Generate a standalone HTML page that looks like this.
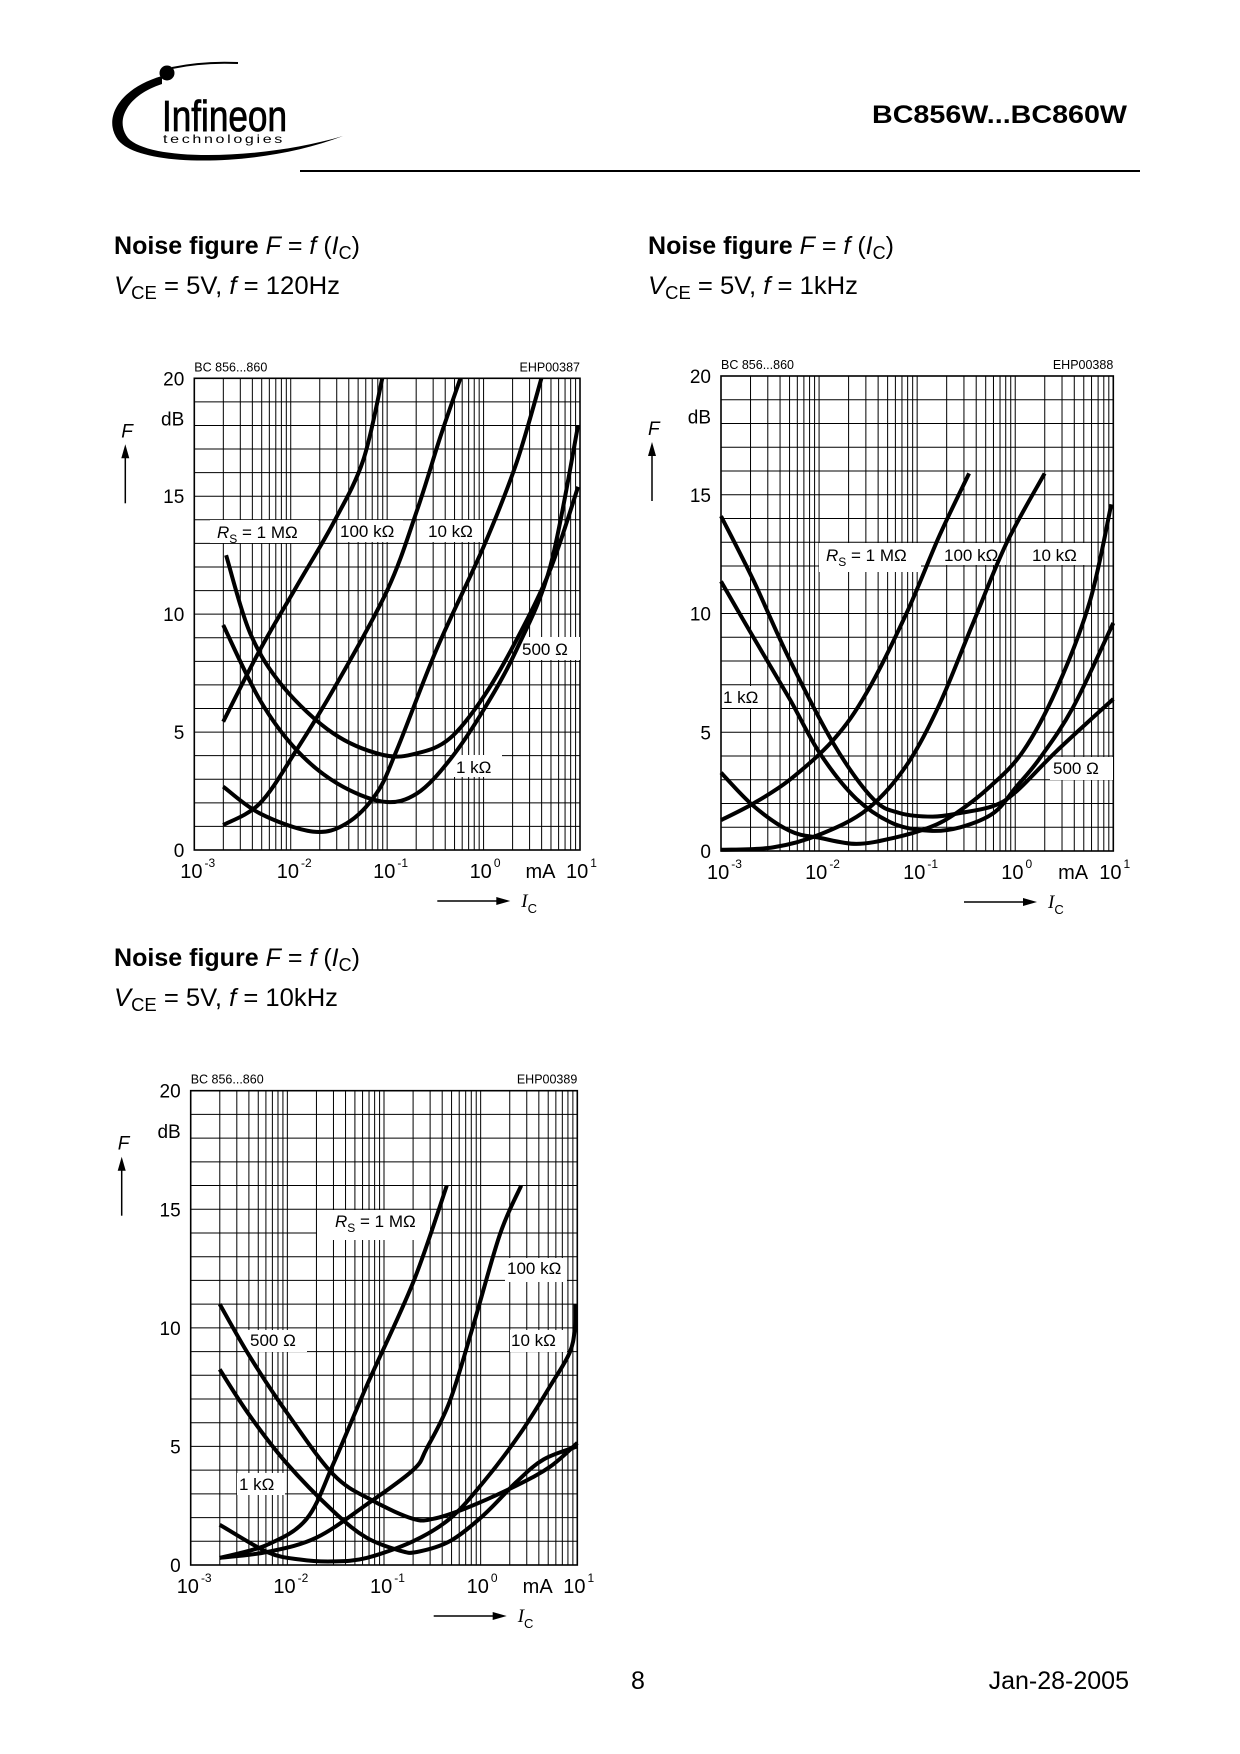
<!DOCTYPE html>
<html><head><meta charset="utf-8"><title>BC856W...BC860W noise figure</title>
<style>
html,body{margin:0;padding:0;background:#fff;}
svg{display:block;font-family:"Liberation Sans",Arial,sans-serif;}
</style></head>
<body>
<svg id="page" width="1240" height="1754" viewBox="0 0 1240 1754" xmlns="http://www.w3.org/2000/svg">
<rect x="0" y="0" width="1240" height="1754" fill="#fff"/>
<g>
  <path d="M 162,76 C 120,88 102,118 118,140 C 140,168 260,168 343,136 C 262,160 150,162 128,138 C 114,120 128,95 162,84 Z" fill="#000"/>
  <path d="M172,68 C195,63 215,62 238,63" stroke="#000" stroke-width="2" fill="none"/>
  <circle cx="167" cy="73" r="7.5" fill="#000"/>
  <text x="162" y="131" font-size="44" stroke="#000" stroke-width="0.8" textLength="125" lengthAdjust="spacingAndGlyphs">Infineon</text>
  <text x="163" y="143" font-size="12" textLength="122" lengthAdjust="spacingAndGlyphs" letter-spacing="2">technologies</text>
</g>
<text x="872" y="123" font-size="25" font-weight="bold" textLength="255" lengthAdjust="spacingAndGlyphs">BC856W...BC860W</text>
<line x1="300" y1="171" x2="1140" y2="171" stroke="#000" stroke-width="2"/>

<g>
 <text x="114" y="254" font-size="25" textLength="246" lengthAdjust="spacingAndGlyphs"><tspan font-weight="bold">Noise figure </tspan><tspan font-style="italic">F</tspan> = <tspan font-style="italic">f</tspan> (<tspan font-style="italic">I</tspan><tspan font-size="18" dy="5">C</tspan><tspan dy="-5">)</tspan></text>
 <text x="114" y="294" font-size="25" textLength="226" lengthAdjust="spacingAndGlyphs"><tspan font-style="italic">V</tspan><tspan font-size="18" dy="5">CE</tspan><tspan dy="-5"> = 5V, </tspan><tspan font-style="italic">f</tspan> = 120Hz</text>
</g>
<g>
 <text x="648" y="254" font-size="25" textLength="246" lengthAdjust="spacingAndGlyphs"><tspan font-weight="bold">Noise figure </tspan><tspan font-style="italic">F</tspan> = <tspan font-style="italic">f</tspan> (<tspan font-style="italic">I</tspan><tspan font-size="18" dy="5">C</tspan><tspan dy="-5">)</tspan></text>
 <text x="648" y="294" font-size="25" textLength="210" lengthAdjust="spacingAndGlyphs"><tspan font-style="italic">V</tspan><tspan font-size="18" dy="5">CE</tspan><tspan dy="-5"> = 5V, </tspan><tspan font-style="italic">f</tspan> = 1kHz</text>
</g>
<g>
 <text x="114" y="966" font-size="25" textLength="246" lengthAdjust="spacingAndGlyphs"><tspan font-weight="bold">Noise figure </tspan><tspan font-style="italic">F</tspan> = <tspan font-style="italic">f</tspan> (<tspan font-style="italic">I</tspan><tspan font-size="18" dy="5">C</tspan><tspan dy="-5">)</tspan></text>
 <text x="114" y="1006" font-size="25" textLength="224" lengthAdjust="spacingAndGlyphs"><tspan font-style="italic">V</tspan><tspan font-size="18" dy="5">CE</tspan><tspan dy="-5"> = 5V, </tspan><tspan font-style="italic">f</tspan> = 10kHz</text>
</g>

<g id="chart1"></g>
<g id="chart2"></g>
<g id="chart3"></g>

<text x="631" y="1689" font-size="25">8</text>
<text x="1129" y="1689" font-size="25" text-anchor="end">Jan-28-2005</text>
</svg>
<script>
// ---------- data (log10 of Ic in mA, noise figure F in dB) ----------
const xTickLabels = ["-3","-2","-1","0","1"];
const yTickLabels = [0,5,10,15,20];

// Chart 1: f = 120 Hz
const c1_1M_logIc   = [-2.70,-2.32,-1.94,-1.56,-1.25,-1.05];
const c1_1M_F       = [5.44,8.48,11.17,13.85,16.5,20];
const c1_100k_logIc = [-2.70,-2.32,-1.94,-1.52,-1.0,-0.69,-0.45,-0.24];
const c1_100k_F     = [1.06,1.98,4.24,7.07,11.0,14.4,17.5,20];
const c1_10k_logIc  = [-2.70,-2.32,-1.77,-1.42,-1.11,-0.90,-0.49,0.0,0.34,0.60];
const c1_10k_F      = [2.69,1.55,0.78,1.13,2.4,4.24,8.48,12.86,16.4,20];
const c1_1k_logIc   = [-2.70,-2.32,-1.94,-1.52,-1.04,-0.69,-0.35,0.0,0.34,0.69,0.98];
const c1_1k_F       = [9.54,6.36,4.24,2.83,2.05,2.4,3.82,5.94,8.48,12.0,18.0];
const c1_500_logIc  = [-2.67,-2.42,-2.08,-1.56,-1.04,-0.69,-0.35,0.0,0.34,0.69,0.98];
const c1_500_F      = [12.5,9.19,6.93,4.95,4.03,4.1,4.73,6.5,8.9,11.87,15.4];

// Chart 2: f = 1 kHz
const c2_1M_logIc   = [-3,-2.67,-2.30,-1.85,-1.51,-1.11,-0.77,-0.47];
const c2_1M_F       = [1.3,2.0,3.0,4.7,6.7,10.0,13.3,15.9];
const c2_100k_logIc = [-3,-2.47,-1.99,-1.51,-1.11,-0.77,-0.43,-0.09,0.30];
const c2_100k_F     = [0.05,0.15,0.7,1.75,3.6,6.2,9.6,12.95,15.9];
const c2_10k_logIc  = [-3,-2.67,-2.30,-1.99,-1.62,-1.24,-0.87,-0.60,-0.26,0.08,0.42,0.76,0.98];
const c2_10k_F      = [3.3,1.9,0.85,0.55,0.3,0.55,1.0,1.6,2.7,4.2,6.8,10.5,14.6];
const c2_1k_logIc   = [-3,-2.67,-2.30,-1.99,-1.62,-1.24,-0.87,-0.56,-0.22,0.01,0.25,0.59,1.0];
const c2_1k_F       = [11.35,9.0,6.4,4.1,2.2,1.15,0.85,1.0,1.6,2.7,3.9,6.05,9.6];
const c2_500_logIc  = [-3,-2.67,-2.30,-1.85,-1.45,-1.18,-0.84,-0.56,-0.22,0.01,0.42,1.0];
const c2_500_F      = [14.1,11.4,8.05,4.5,2.2,1.6,1.45,1.6,1.9,2.5,4.2,6.4];

// Chart 3: f = 10 kHz
const c3_1M_logIc   = [-2.70,-2.21,-1.80,-1.52,-1.18,-0.70,-0.35];
const c3_1M_F       = [0.3,0.85,1.95,4.3,7.55,11.9,16];
const c3_100k_logIc = [-2.70,-2.21,-1.70,-1.18,-0.70,-0.56,-0.32,-0.08,0.20,0.42];
const c3_100k_F     = [0.3,0.55,1.15,2.55,4.0,4.9,6.9,10.05,13.95,16];
const c3_10k_logIc  = [-2.70,-2.21,-1.87,-1.52,-1.18,-0.70,-0.32,0.03,0.41,0.72,0.92,0.975,0.98];
const c3_10k_F      = [1.7,0.55,0.23,0.15,0.3,1.0,1.95,3.5,5.55,7.55,8.95,10.0,11.0];
const c3_1k_logIc   = [-2.70,-2.39,-2.01,-1.52,-1.18,-0.83,-0.66,-0.32,0.03,0.37,0.65,1.0];
const c3_1k_F       = [8.25,6.3,4.3,2.25,1.15,0.6,0.55,1.0,2.1,3.5,4.45,5.0];
const c3_500_logIc  = [-2.70,-2.39,-2.01,-1.52,-1.11,-0.70,-0.49,-0.15,0.37,0.72,1.0];
const c3_500_F      = [11.0,8.8,6.45,3.8,2.7,1.95,1.95,2.4,3.35,4.15,5.15];

const NS = "http://www.w3.org/2000/svg";
function mk(tag, attrs, parent){
  const e = document.createElementNS(NS, tag);
  for (const k in attrs) e.setAttribute(k, attrs[k]);
  if (parent) parent.appendChild(e);
  return e;
}
function smoothPath(pts){
  let d = "M" + pts[0][0].toFixed(1) + "," + pts[0][1].toFixed(1);
  for (let i = 0; i < pts.length - 1; i++){
    const p0 = pts[Math.max(0,i-1)], p1 = pts[i], p2 = pts[i+1], p3 = pts[Math.min(pts.length-1,i+2)];
    const c1x = p1[0] + (p2[0]-p0[0])/6, c1y = p1[1] + (p2[1]-p0[1])/6;
    const c2x = p2[0] - (p3[0]-p1[0])/6, c2y = p2[1] - (p3[1]-p1[1])/6;
    d += " C" + c1x.toFixed(1)+","+c1y.toFixed(1)+" "+c2x.toFixed(1)+","+c2y.toFixed(1)+" "+p2[0].toFixed(1)+","+p2[1].toFixed(1);
  }
  return d;
}
function rsLabel(g, x, y, parts){
  const t = mk("text", {x:x, y:y, "font-size":17}, g);
  let sub = false;
  parts.forEach(p => {
    const ts = mk("tspan", {}, t);
    if (p[1] === "i") ts.setAttribute("font-style","italic");
    if (p[1] === "s"){ ts.setAttribute("font-size","12"); ts.setAttribute("dy","5"); sub = true; }
    else if (sub){ ts.setAttribute("dy","-5"); sub = false; }
    ts.textContent = p[0];
  });
  return t;
}

function drawChart(root, cfg){
  const L = cfg.left, R = cfg.right, T = cfg.top, B = cfg.bottom;
  const xs = v => L + (v + 3) / 4 * (R - L);
  const ys = v => B - v / 20 * (B - T);

  const grid = mk("g", {stroke:"#000", "stroke-width":"1", fill:"none"}, root);
  
  
  for (let d = -3; d < 1; d++){
    for (let m = 1; m <= 9; m++){
      const x = xs(d + Math.log10(m));
      mk("line", {x1:x, y1:T, x2:x, y2:B}, grid);
    }
  }
  for (let v = 0; v <= 20; v++){
    mk("line", {x1:L, y1:ys(v), x2:R, y2:ys(v)}, grid);
  }
  const frame = mk("rect", {x:L, y:T, width:R-L, height:B-T, fill:"none", stroke:"#000", "stroke-width":"1.6"}, root);
  
  

  cfg.labels.forEach(lb => {
    const g = mk("g", {}, root);
    
    
    mk("rect", {x:lb.bx, y:lb.by, width:lb.bw, height:lb.bh, fill:"#fff"}, g);
    rsLabel(g, lb.tx, lb.ty, lb.parts);
  });

  cfg.curves.forEach(c => {
    const pts = c.x.map((v,i) => [xs(v), ys(c.y[i])]);
    const p = mk("path", {d:smoothPath(pts), fill:"none", stroke:"#000", "stroke-width":"4", "stroke-linecap":"butt", "stroke-linejoin":"round"}, root);
    
    
  });

  yTickLabels.forEach(v => {
    const t = mk("text", {x:L-10, y:ys(v)+7, "font-size":19, "text-anchor":"end"}, root);
    
    
    t.textContent = String(v);
  });
  const db = mk("text", {x:L-10, y:ys(18.3)+7, "font-size":19, "text-anchor":"end"}, root);
  
  
  db.textContent = "dB";

  xTickLabels.forEach((lab, i) => {
    const x = xs(parseFloat(lab));
    const t = mk("text", {x:x-14, y:B+28, "font-size":20}, root);
    
    
    const a = mk("tspan", {}, t); a.textContent = "10";
    const s = mk("tspan", {"font-size":12, dy:-11, dx:2}, t); s.textContent = lab;
  });
  const ma = mk("text", {x:xs(0.59), y:B+28, "font-size":20, "text-anchor":"middle"}, root);
  
  
  ma.textContent = "mA";

  const cap1 = mk("text", {x:L, y:T-7, "font-size":12.5}, root);
  
  
  cap1.textContent = "BC 856...860";
  const cap2 = mk("text", {x:R, y:T-7, "font-size":12.5, "text-anchor":"end"}, root);
  
  
  cap2.textContent = cfg.code;

  const yt = mk("g", {}, root);
  
  
  const ft = mk("text", {x:L-73, y:T+59, "font-size":19, "font-style":"italic"}, yt);
  ft.textContent = "F";
  mk("line", {x1:L-69, y1:T+78, x2:L-69, y2:T+125, stroke:"#000", "stroke-width":"1.5"}, yt);
  mk("path", {d:"M"+(L-73)+","+(T+80)+" L"+(L-69)+","+(T+66)+" L"+(L-65)+","+(T+80)+" Z", fill:"#000"}, yt);

  const xt = mk("g", {}, root);
  
  
  mk("line", {x1:L+243, y1:B+51, x2:L+305, y2:B+51, stroke:"#000", "stroke-width":"1.5"}, xt);
  mk("path", {d:"M"+(L+302)+","+(B+47)+" L"+(L+316)+","+(B+51)+" L"+(L+302)+","+(B+55)+" Z", fill:"#000"}, xt);
  const ic = mk("text", {x:L+327, y:B+57, "font-size":19, "font-style":"italic", "font-family":"Liberation Serif, serif"}, xt);
  const i1 = mk("tspan", {}, ic); i1.textContent = "I";
  const i2 = mk("tspan", {"font-size":13, dy:6, "font-style":"normal", "font-family":"Liberation Sans, sans-serif"}, ic); i2.textContent = "C";
}

const RS = [["R","i"],["S","s"],[" = 1 MΩ",""]];

drawChart(document.getElementById("chart1"), {
  left:194.3, right:580, top:378.3, bottom:850, code:"EHP00387",
  curves:[
    {name:"curve-rs-1mohm", x:c1_1M_logIc, y:c1_1M_F},
    {name:"curve-rs-100kohm", x:c1_100k_logIc, y:c1_100k_F},
    {name:"curve-rs-10kohm", x:c1_10k_logIc, y:c1_10k_F},
    {name:"curve-rs-1kohm", x:c1_1k_logIc, y:c1_1k_F},
    {name:"curve-rs-500ohm", x:c1_500_logIc, y:c1_500_F}
  ],
  labels:[
    {name:"label-rs-1mohm", bx:210, by:520, bw:108, bh:23, tx:217, ty:538, parts:RS},
    {name:"label-rs-100kohm", bx:338, by:520, bw:65, bh:22, tx:340, ty:537, parts:[["100 kΩ",""]]},
    {name:"label-rs-10kohm", bx:420, by:520, bw:63, bh:22, tx:428, ty:537, parts:[["10 kΩ",""]]},
    {name:"label-rs-500ohm", bx:520, by:637, bw:60, bh:23, tx:522, ty:655, parts:[["500 Ω",""]]},
    {name:"label-rs-1kohm", bx:453, by:755, bw:49, bh:22, tx:456, ty:773, parts:[["1 kΩ",""]]}
  ]
});

drawChart(document.getElementById("chart2"), {
  left:721, right:1113.3, top:376, bottom:851, code:"EHP00388",
  curves:[
    {name:"curve-rs-1mohm", x:c2_1M_logIc, y:c2_1M_F},
    {name:"curve-rs-100kohm", x:c2_100k_logIc, y:c2_100k_F},
    {name:"curve-rs-10kohm", x:c2_10k_logIc, y:c2_10k_F},
    {name:"curve-rs-1kohm", x:c2_1k_logIc, y:c2_1k_F},
    {name:"curve-rs-500ohm", x:c2_500_logIc, y:c2_500_F}
  ],
  labels:[
    {name:"label-rs-1mohm", bx:819, by:543, bw:102, bh:29, tx:826, ty:561, parts:RS},
    {name:"label-rs-100kohm", bx:940, by:543, bw:66, bh:22, tx:944, ty:561, parts:[["100 kΩ",""]]},
    {name:"label-rs-10kohm", bx:1026, by:543, bw:62, bh:22, tx:1032, ty:561, parts:[["10 kΩ",""]]},
    {name:"label-rs-1kohm", bx:722, by:686, bw:41, bh:22, tx:723, ty:703, parts:[["1 kΩ",""]]},
    {name:"label-rs-500ohm", bx:1050, by:757, bw:63, bh:23, tx:1053, ty:774, parts:[["500 Ω",""]]}
  ]
});

drawChart(document.getElementById("chart3"), {
  left:190.7, right:577.3, top:1090.7, bottom:1565, code:"EHP00389",
  curves:[
    {name:"curve-rs-1mohm", x:c3_1M_logIc, y:c3_1M_F},
    {name:"curve-rs-100kohm", x:c3_100k_logIc, y:c3_100k_F},
    {name:"curve-rs-10kohm", x:c3_10k_logIc, y:c3_10k_F},
    {name:"curve-rs-1kohm", x:c3_1k_logIc, y:c3_1k_F},
    {name:"curve-rs-500ohm", x:c3_500_logIc, y:c3_500_F}
  ],
  labels:[
    {name:"label-rs-1mohm", bx:317, by:1210, bw:113, bh:30, tx:335, ty:1227, parts:RS},
    {name:"label-rs-100kohm", bx:505, by:1258, bw:62, bh:24, tx:507, ty:1274, parts:[["100 kΩ",""]]},
    {name:"label-rs-10kohm", bx:510, by:1330, bw:57, bh:22, tx:511, ty:1346, parts:[["10 kΩ",""]]},
    {name:"label-rs-500ohm", bx:247, by:1330, bw:60, bh:22, tx:250, ty:1346, parts:[["500 Ω",""]]},
    {name:"label-rs-1kohm", bx:237, by:1473, bw:48, bh:22, tx:239, ty:1490, parts:[["1 kΩ",""]]}
  ]
});
</script>
</body></html>
